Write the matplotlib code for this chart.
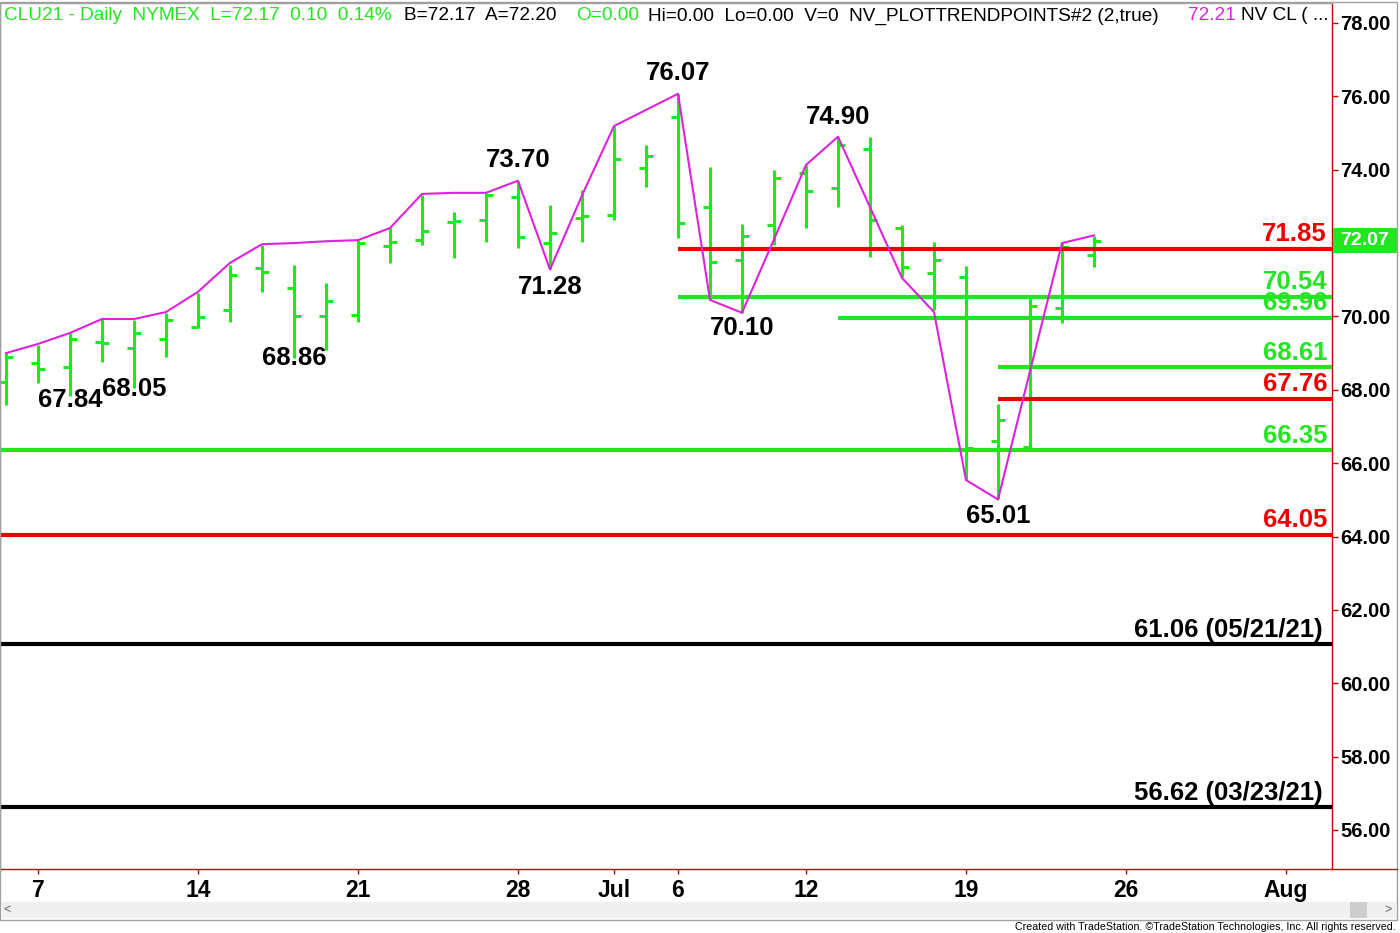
import numpy as np
import matplotlib
matplotlib.use("Agg")
import matplotlib.pyplot as plt
from matplotlib.patches import Rectangle
from matplotlib.lines import Line2D

plt.rcParams["font.family"] = ["Liberation Sans", "DejaVu Sans"]

# ---------- data ----------
dates = ["2021-06-04", "2021-06-07", "2021-06-08", "2021-06-09", "2021-06-10", "2021-06-11",
         "2021-06-14", "2021-06-15", "2021-06-16", "2021-06-17", "2021-06-18",
         "2021-06-21", "2021-06-22", "2021-06-23", "2021-06-24", "2021-06-25",
         "2021-06-28", "2021-06-29", "2021-06-30", "2021-07-01", "2021-07-02",
         "2021-07-06", "2021-07-07", "2021-07-08", "2021-07-09",
         "2021-07-12", "2021-07-13", "2021-07-14", "2021-07-15", "2021-07-16",
         "2021-07-19", "2021-07-20", "2021-07-21", "2021-07-22", "2021-07-23"]
opens = [68.21, 68.72, 68.63, 69.30, 69.14, 69.39, 69.70, 70.18, 71.33, 70.77, 70.01,
         70.05, 71.92, 72.08, 72.57, 72.63, 73.26, 72.00, 72.68, 72.77, 74.05,
         75.44, 72.98, 71.54, 72.49, 73.90, 73.50, 74.56, 72.41, 71.18,
         71.08, 66.60, 66.44, 70.23, 71.68]
highs = [69.00, 69.22, 69.55, 69.93, 69.90, 70.09, 70.63, 71.40, 71.95, 71.40, 70.90,
         72.08, 72.41, 73.31, 72.85, 73.37, 73.70, 73.04, 73.45, 75.19, 74.67,
         76.07, 74.07, 72.52, 73.99, 74.13, 74.90, 74.89, 72.49, 72.03,
         71.38, 67.61, 70.53, 72.00, 72.19]
lows = [67.59, 68.19, 67.84, 68.76, 68.05, 68.89, 69.68, 69.86, 70.67, 68.86, 69.09,
        69.85, 71.46, 71.95, 71.59, 72.03, 71.87, 71.28, 72.03, 72.63, 73.53,
        72.14, 70.45, 70.10, 71.95, 72.41, 72.98, 71.62, 71.08, 70.18,
        65.54, 65.01, 66.41, 69.82, 71.35]
closes = [68.90, 68.57, 69.38, 69.28, 69.55, 69.90, 69.98, 71.13, 71.22, 70.01, 70.42,
          72.00, 72.03, 72.33, 72.60, 73.31, 72.17, 72.27, 72.75, 74.29, 74.37,
          72.55, 71.48, 72.19, 73.77, 73.42, 74.67, 72.63, 71.35, 71.54,
          66.42, 67.18, 70.28, 71.89, 72.07]
trend = [69.00, 69.25, 69.55, 69.93, 69.93, 70.12, 70.67, 71.46, 71.97, 72.00, 72.05,
         72.08, 72.41, 73.34, 73.37, 73.37, 73.70, 71.28, 73.30, 75.19, 75.63,
         76.07, 70.45, 70.10, 72.10, 74.13, 74.90, 72.98, 71.05, 70.12,
         65.54, 65.01, 68.51, 72.00, 72.21]

swing_values = [67.84, 68.05, 68.86, 73.70, 71.28, 76.07, 70.10, 74.90, 65.01]
swing_dates = ["2021-06-08", "2021-06-10", "2021-06-17", "2021-06-28", "2021-06-29",
               "2021-07-06", "2021-07-08", "2021-07-13", "2021-07-20"]
swing_dy = [-3, -1, 0.5, 15, -12.5, 15, -11, 14.5, -12]

level_values = [71.85, 70.54, 69.96, 68.61, 67.76, 66.35, 64.05, 61.06, 56.62]
level_labels = ["71.85", "70.54", "69.96", "68.61", "67.76", "66.35", "64.05",
                "61.06 (05/21/21)", "56.62 (03/23/21)"]
level_starts = ["2021-07-06", "2021-07-06", "2021-07-13", "2021-07-20", "2021-07-20",
                None, None, None, None]
level_kinds = ["red", "green", "green", "green", "red", "green", "red", "black", "black"]

tick_dates = ["2021-06-07", "2021-06-14", "2021-06-21", "2021-06-28", "2021-07-01",
              "2021-07-06", "2021-07-12", "2021-07-19", "2021-07-26", "2021-08-02"]
tick_labels = ["7", "14", "21", "28", "Jul", "6", "12", "19", "26", "Aug"]
month_ticks = ["2021-07-01", "2021-08-02"]

last_price = 72.07

# ---------- helpers ----------
HOL = ["2021-07-05"]
def idx(d):
    return np.busday_count("2021-06-04", d, holidays=HOL)

GREEN = "#22e622"
RED = "#ee0000"
MAG = "#dd22dd"
AXRED = "#cc0000"
colors = {"red": RED, "green": GREEN, "black": "black"}

W, H = 1400, 933
def fx(px):
    return px / W
def fy(py):
    return 1 - py / H

fig = plt.figure(figsize=(14, 9.33), dpi=100)
ax = fig.add_axes([0, fy(869), fx(1332), fy(3) - fy(869)])
ax.set_xlim(-0.1875, 41.4375)
ax.set_ylim(54.936, 78.545)

x = idx(dates)

# levels
for v, lab, st, k in zip(level_values, level_labels, level_starts, level_kinds):
    x0 = ax.get_xlim()[0] if st is None else idx(st)
    ax.hlines(v, x0, ax.get_xlim()[1], color=colors[k], lw=3, zorder=3)
    off = -6.5 if k == "black" else -3.6
    ax.annotate(lab, xy=(1, v), xycoords=("axes fraction", "data"),
                xytext=(off, 5.5), textcoords="offset points",
                ha="right", va="baseline", fontsize=18.5, fontweight="bold",
                color=colors[k], zorder=6)

# OHLC bars
ax.vlines(x, lows, highs, color=GREEN, lw=2.2, zorder=2)
ax.hlines(opens, x - 0.22, x, color=GREEN, lw=2.2, zorder=2)
ax.hlines(closes, x, x + 0.22, color=GREEN, lw=2.2, zorder=2)

# trend line
ax.plot(x, trend, color=MAG, lw=1.5, zorder=4)

# swing labels
for v, d, dy in zip(swing_values, swing_dates, swing_dy):
    ax.annotate(f"{v:.2f}", xy=(idx(d), v), xytext=(0, dy), textcoords="offset points",
                ha="center", va="center", fontsize=18.5, fontweight="bold",
                color="black", zorder=6)

# axes styling
for s in ["bottom", "right"]:
    ax.spines[s].set_color(AXRED)
    ax.spines[s].set_linewidth(1)
for s in ["left", "top"]:
    ax.spines[s].set_color("#a0a0a0")
    ax.spines[s].set_linewidth(1)

yt = np.arange(56, 79, 2)
ax.set_yticks(yt)
# the 72.00 label sits under the last-price box
ax.set_yticklabels(["" if v == 72 else f"{v:.2f}" for v in yt])
ax.yaxis.tick_right()
ax.tick_params(axis="y", colors=AXRED, labelcolor="black", length=4.5, width=1,
               pad=1.5, labelsize=14.5)
for t in ax.get_yticklabels():
    t.set_fontweight("bold")

ax.set_xticks(idx(tick_dates))
ax.set_xticklabels(tick_labels)
ax.set_xticks(idx(month_ticks), minor=True)
ax.tick_params(axis="x", which="major", colors=AXRED, labelcolor="black", length=3.5,
               width=1, pad=4, labelsize=16.5)
ax.tick_params(axis="x", which="minor", colors=AXRED, length=7.5, width=1)
for t in ax.get_xticklabels():
    t.set_fontweight("bold")

# last price box
tr = ax.get_yaxis_transform()
ax.add_patch(Rectangle((1.0008, last_price - 0.33), 65 / 1332, 0.66, transform=tr,
                       facecolor=GREEN, edgecolor="none", clip_on=False, zorder=7))
ax.text(1 + 32.5 / 1332, last_price, f"{last_price:.2f}", transform=tr, ha="center",
        va="center", color="white", fontsize=14, fontweight="bold", zorder=8)

# header
hdr = [("CLU21 - Daily  NYMEX  L=72.17  0.10  0.14%", 3.6, GREEN),
       ("B=72.17  A=72.20", 404, "black"),
       ("O=0.00", 576, GREEN),
       ("Hi=0.00  Lo=0.00  V=0  NV_PLOTTRENDPOINTS#2 (2,true)", 648, "black"),
       ("72.21", 1188, MAG),
       ("NV CL ( ...", 1241, "black")]
for s, px, c in hdr:
    fig.text(fx(px), fy(16), s, color=c, fontsize=13.7, ha="left", va="center")

# frame, extension of the axis line, scrollbar, footer
fig.add_artist(Line2D([fx(1332), fx(1397)], [fy(869), fy(869)], color=AXRED, lw=1))
fig.add_artist(Rectangle((fx(0), fy(920)), fx(1397), fy(2) - fy(920), transform=fig.transFigure,
                         fill=False, edgecolor="#a0a0a0", lw=1))
fig.add_artist(Rectangle((fx(1), fy(918)), fx(1395), fy(902) - fy(918), transform=fig.transFigure,
                         facecolor="#f0f0f0", edgecolor="none"))
fig.add_artist(Rectangle((fx(1350), fy(918)), fx(17), fy(902) - fy(918), transform=fig.transFigure,
                         facecolor="#cdcdcd", edgecolor="none"))
fig.text(fx(7), fy(910), "<", fontsize=9, color="#606060", ha="center", va="center")
fig.text(fx(1388), fy(910), ">", fontsize=9, color="#606060", ha="center", va="center")
fig.text(fx(1396), fy(927), "Created with TradeStation. \u00a9TradeStation Technologies, Inc. All rights reserved.",
         fontsize=7.7, ha="right", va="center", color="black")

fig.savefig("out.png", dpi=100)
